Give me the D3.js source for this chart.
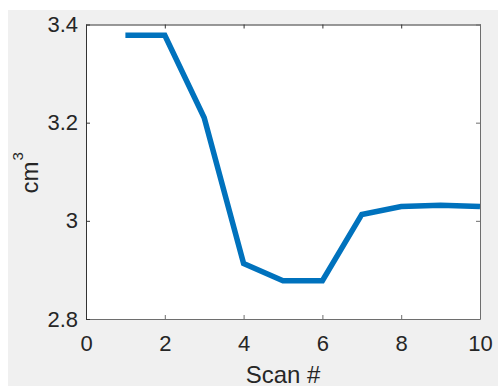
<!DOCTYPE html>
<html>
<head>
<meta charset="utf-8">
<script src="https://cdn.jsdelivr.net/npm/d3@7"></script>
<style>
  html, body { margin: 0; padding: 0; background: #fff; }
  svg { display: block; font-family: "Liberation Sans", Arial, sans-serif; }
</style>
</head>
<body>
<div id="chart"></div>
<script>
const scans = [1, 2, 3, 4, 5, 6, 7, 8, 9, 10];
const volumes = [3.378, 3.378, 3.21, 2.913, 2.878, 2.878, 3.013, 3.029, 3.032, 3.029];
const xTicks = [0, 2, 4, 6, 8, 10];
const yTicks = [2.8, 3, 3.2, 3.4];

const w = 498, h = 387;
const padL = 86, padR = 480, padT = 24.5, padB = 319;

const svg = d3.select("#chart").append("svg").attr("width", w).attr("height", h);

svg.append("rect").attr("x", 8).attr("y", 10).attr("width", w - 8).attr("height", h - 11)
  .attr("fill", "#f0f0f0");

const x = d3.scaleLinear().domain([0, 10]).range([padL, padR]);
const y = d3.scaleLinear().domain([2.8, 3.4]).range([padB, padT]);

svg.append("rect").attr("x", padL).attr("y", padT)
  .attr("width", padR - padL).attr("height", padB - padT).attr("fill", "#fff");

// line
svg.append("path")
  .datum(scans.map((s, i) => [s, volumes[i]]))
  .attr("fill", "none")
  .attr("stroke", "#0072bd")
  .attr("stroke-width", 5.5)
  .attr("stroke-linejoin", "miter")
  .attr("d", d3.line().x(d => x(d[0])).y(d => y(d[1])));

// axes (MATLAB box with inward ticks)
const styleAxis = (g, color) => {
  g.select(".domain").attr("stroke", color);
  g.selectAll(".tick line").attr("stroke", color);
  g.selectAll(".tick text").attr("fill", "#262626").style("font-size", "22px")
    .style("font-family", "'Liberation Sans', Arial, sans-serif");
};

svg.append("g").attr("transform", `translate(0,${padB})`)
  .call(d3.axisBottom(x).tickValues(xTicks).tickSizeInner(-4).tickSizeOuter(0).tickPadding(16).tickFormat(d3.format("d")))
  .call(g => styleAxis(g, "#6e6e6e"));

svg.append("g").attr("transform", `translate(0,${padT})`)
  .call(d3.axisTop(x).tickValues(xTicks).tickSizeInner(-4).tickSizeOuter(0).tickFormat(""))
  .call(g => styleAxis(g, "#333"));

svg.append("g").attr("transform", `translate(${padL},0)`)
  .call(d3.axisLeft(y).tickValues(yTicks).tickSizeInner(-4).tickSizeOuter(0).tickPadding(8).tickFormat(d3.format("~g")))
  .call(g => styleAxis(g, "#333"));

svg.append("g").attr("transform", `translate(${padR},0)`)
  .call(d3.axisRight(y).tickValues(yTicks).tickSizeInner(-4).tickSizeOuter(0).tickFormat(""))
  .call(g => styleAxis(g, "#6e6e6e"));

// labels
svg.append("text")
  .attr("x", (padL + padR) / 2).attr("y", 383)
  .attr("text-anchor", "middle").attr("fill", "#262626")
  .style("font-size", "24px")
  .text("Scan #");

const yl = svg.append("text")
  .attr("transform", `translate(38,${(padT + padB) / 2 + 1}) rotate(-90)`)
  .attr("text-anchor", "middle").attr("fill", "#262626")
  .style("font-size", "24px");
yl.append("tspan").text("cm");
yl.append("tspan").attr("dx", 1).attr("dy", -15).style("font-size", "15px").text("3");
</script>
</body>
</html>
